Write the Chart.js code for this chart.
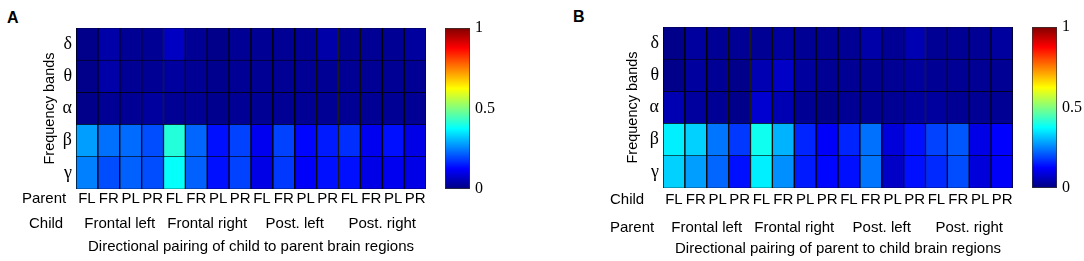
<!DOCTYPE html>
<html><head><meta charset="utf-8">
<script src="https://cdn.jsdelivr.net/npm/chart.js@4.4.1/dist/chart.umd.min.js"></script>
<style>
html,body{margin:0;padding:0;background:#fff;width:1084px;height:261px;overflow:hidden;}
.box{position:absolute;top:0;height:261px;}
.box canvas{display:block}
.lbl{position:absolute;font:bold 16px "Liberation Sans",Arial,sans-serif;line-height:16px;color:#000;}
</style></head><body>
<div class="lbl" style="left:7px;top:10px">A</div>
<div class="lbl" style="left:573px;top:9px">B</div>
<div class="box" style="left:0px;width:430px"><canvas id="hmA" width="430" height="261"></canvas></div>
<div class="box" style="left:440px;width:80px"><canvas id="cbA" width="80" height="261"></canvas></div>
<div class="box" style="left:587px;width:430px"><canvas id="hmB" width="430" height="261"></canvas></div>
<div class="box" style="left:1027px;width:57px"><canvas id="cbB" width="57" height="261"></canvas></div>
<script>
// ---- data ----
const columnLabels = ['FL','FR','PL','PR','FL','FR','PL','PR','FL','FR','PL','PR','FL','FR','PL','PR'];
const groupLabels = ['Frontal left','Frontal right','Post. left','Post. right'];
const bandLabels = ['δ','θ','α','β','γ'];
const colorbarTicks = [0, 0.5, 1];

// Panel A: child -> parent
const aDelta = [0.01,0.04,0.02,0.02,0.065,0.02,0.01,0.02, 0.02,0.02,0.02,0.04,0.02,0.02,0.02,0.03];
const aTheta = [0.01,0.04,0.02,0.02,0.03,0.02,0.015,0.02, 0.02,0.02,0.02,0.02,0.02,0.02,0.02,0.02];
const aAlpha = [0.01,0.02,0.02,0.03,0.02,0.02,0.015,0.02, 0.02,0.02,0.02,0.02,0.02,0.02,0.02,0.02];
const aBeta  = [0.28,0.235,0.23,0.20,0.41,0.225,0.14,0.19, 0.11,0.19,0.13,0.15,0.17,0.11,0.14,0.10];
const aGamma = [0.25,0.20,0.22,0.20,0.38,0.22,0.14,0.19, 0.10,0.18,0.12,0.14,0.14,0.10,0.11,0.10];

// Panel B: parent -> child
const bDelta = [0.01,0.03,0.02,0.02,0.02,0.03,0.02,0.02, 0.02,0.04,0.02,0.05,0.02,0.02,0.02,0.03];
const bTheta = [0.01,0.03,0.02,0.01,0.05,0.07,0.03,0.02, 0.02,0.02,0.02,0.03,0.02,0.02,0.02,0.02];
const bAlpha = [0.05,0.03,0.02,0.01,0.08,0.05,0.02,0.01, 0.02,0.02,0.02,0.03,0.03,0.02,0.02,0.02];
const bBeta  = [0.36,0.33,0.24,0.18,0.39,0.30,0.16,0.12, 0.16,0.235,0.09,0.14,0.19,0.21,0.10,0.125];
const bGamma = [0.33,0.28,0.225,0.14,0.36,0.265,0.15,0.13, 0.14,0.24,0.07,0.14,0.165,0.20,0.09,0.12];

// ---- helpers ----
const SANS = '"Liberation Sans", Arial, sans-serif';
const SERIF = '"Liberation Serif", "Times New Roman", serif';
const FS = 15;
function clamp(x){ return Math.max(0, Math.min(1, x)); }
function jet(v){
  const r = clamp(1.5 - Math.abs(4*v - 3));
  const g = clamp(1.5 - Math.abs(4*v - 2));
  const b = clamp(1.5 - Math.abs(4*v - 1));
  return 'rgb(' + Math.round(r*255) + ',' + Math.round(g*255) + ',' + Math.round(b*255) + ')';
}

const sideLabels = {
  id: 'sideLabels',
  afterDraw(chart, args, o) {
    if (!o || !o.items) return;
    const ctx = chart.ctx;
    ctx.save();
    ctx.font = FS + 'px ' + SANS;
    ctx.fillStyle = '#000';
    ctx.textBaseline = 'middle';
    ctx.textAlign = 'left';
    o.items.forEach(it => ctx.fillText(it.text, it.x, it.y));
    ctx.restore();
  }
};

function heatmap(id, rows, p) {
  const datasets = [4,3,2,1,0].map(i => ({
    label: bandLabels[i],
    data: columnLabels.map(() => 1),
    backgroundColor: rows[i].map(jet),
    borderColor: '#000',
    borderWidth: {left: 1, right: 1, top: 0.6, bottom: 0.6},
    borderSkipped: false,
    barPercentage: 1,
    categoryPercentage: 1
  }));
  return new Chart(document.getElementById(id), {
    type: 'bar',
    data: { labels: columnLabels, datasets },
    plugins: [sideLabels],
    options: {
      responsive: false,
      animation: false,
      events: [],
      layout: { padding: { left: p.padLeft, right: 4, top: p.padTop, bottom: 0 } },
      plugins: {
        legend: { display: false },
        tooltip: { enabled: false },
        sideLabels: { items: p.side }
      },
      scales: {
        x: {
          type: 'category', stacked: true,
          grid: { display: false, drawTicks: false }, border: { display: false },
          ticks: { padding: p.tickPad, color: '#000', font: { family: SANS, size: FS }, maxRotation: 0, autoSkip: false },
          afterFit: s => { s.height = p.h1; }
        },
        x2: {
          type: 'category', position: 'bottom', labels: groupLabels,
          grid: { display: false, drawTicks: false }, border: { display: false },
          ticks: { padding: 3, color: '#000', font: { family: SANS, size: FS }, maxRotation: 0, autoSkip: false },
          title: { display: true, text: p.title, color: '#000', font: { family: SANS, size: FS }, padding: { top: 0, bottom: p.titlePad } },
          afterFit: s => { s.height = p.h2; }
        },
        y: {
          stacked: true, min: 0, max: 5,
          grid: { display: false, drawTicks: false }, border: { display: false },
          afterBuildTicks: s => { s.ticks = [0.5,1.5,2.5,3.5,4.5].map(v => ({ value: v })); },
          ticks: { padding: 4, color: '#000', font: { family: SERIF, size: 18 },
                   callback: v => bandLabels[4 - Math.floor(v)] },
          title: { display: true, text: 'Frequency bands', color: '#000', font: { family: SANS, size: 14.5 }, padding: { top: 1, bottom: 0 } },
          afterFit: s => { s.width = p.yw; }
        }
      }
    }
  });
}

function colorbar(id, padTop, padBottom, axisWidth) {
  return new Chart(document.getElementById(id), {
    type: 'bar',
    data: { labels: [''], datasets: [{
      data: [colorbarTicks[colorbarTicks.length - 1]],
      backgroundColor: (c) => {
        const ca = c.chart.chartArea;
        if (!ca) return '#00f';
        const g = c.chart.ctx.createLinearGradient(0, ca.bottom, 0, ca.top);
        [0, 0.125, 0.25, 0.375, 0.5, 0.625, 0.75, 0.875, 1].forEach(s => g.addColorStop(s, jet(s)));
        return g;
      },
      borderColor: '#333', borderWidth: 1, borderSkipped: false,
      barPercentage: 1, categoryPercentage: 1
    }] },
    options: {
      responsive: false, animation: false, events: [],
      layout: { padding: { left: 5, right: 0, top: padTop, bottom: padBottom } },
      plugins: { legend: { display: false }, tooltip: { enabled: false } },
      scales: {
        x: { display: false },
        y: {
          position: 'right', min: 0, max: 1,
          grid: { display: false, drawTicks: false }, border: { display: false },
          afterBuildTicks: s => { s.ticks = colorbarTicks.map(v => ({ value: v })); },
          ticks: { padding: 5, color: '#000', font: { family: SERIF, size: 16 }, callback: v => String(v) },
          afterFit: s => { s.width = axisWidth; }
        }
      }
    }
  });
}

heatmap('hmA', [aDelta, aTheta, aAlpha, aBeta, aGamma], {
  padLeft: 40, yw: 36, padTop: 28, h1: 23, h2: 49, tickPad: 1, titlePad: 5,
  title: 'Directional pairing of child to parent brain regions',
  side: [{text: 'Parent', x: 22, y: 199}, {text: 'Child', x: 29, y: 224}]
});
colorbar('cbA', 28, 72, 50);

heatmap('hmB', [bDelta, bTheta, bAlpha, bBeta, bGamma], {
  padLeft: 36, yw: 40, padTop: 27, h1: 28, h2: 45, tickPad: 3, titlePad: 3,
  title: 'Directional pairing of parent to child brain regions',
  side: [{text: 'Child', x: 23, y: 200}, {text: 'Parent', x: 23, y: 228}]
});
colorbar('cbB', 27, 73, 27);
</script>
</body></html>
